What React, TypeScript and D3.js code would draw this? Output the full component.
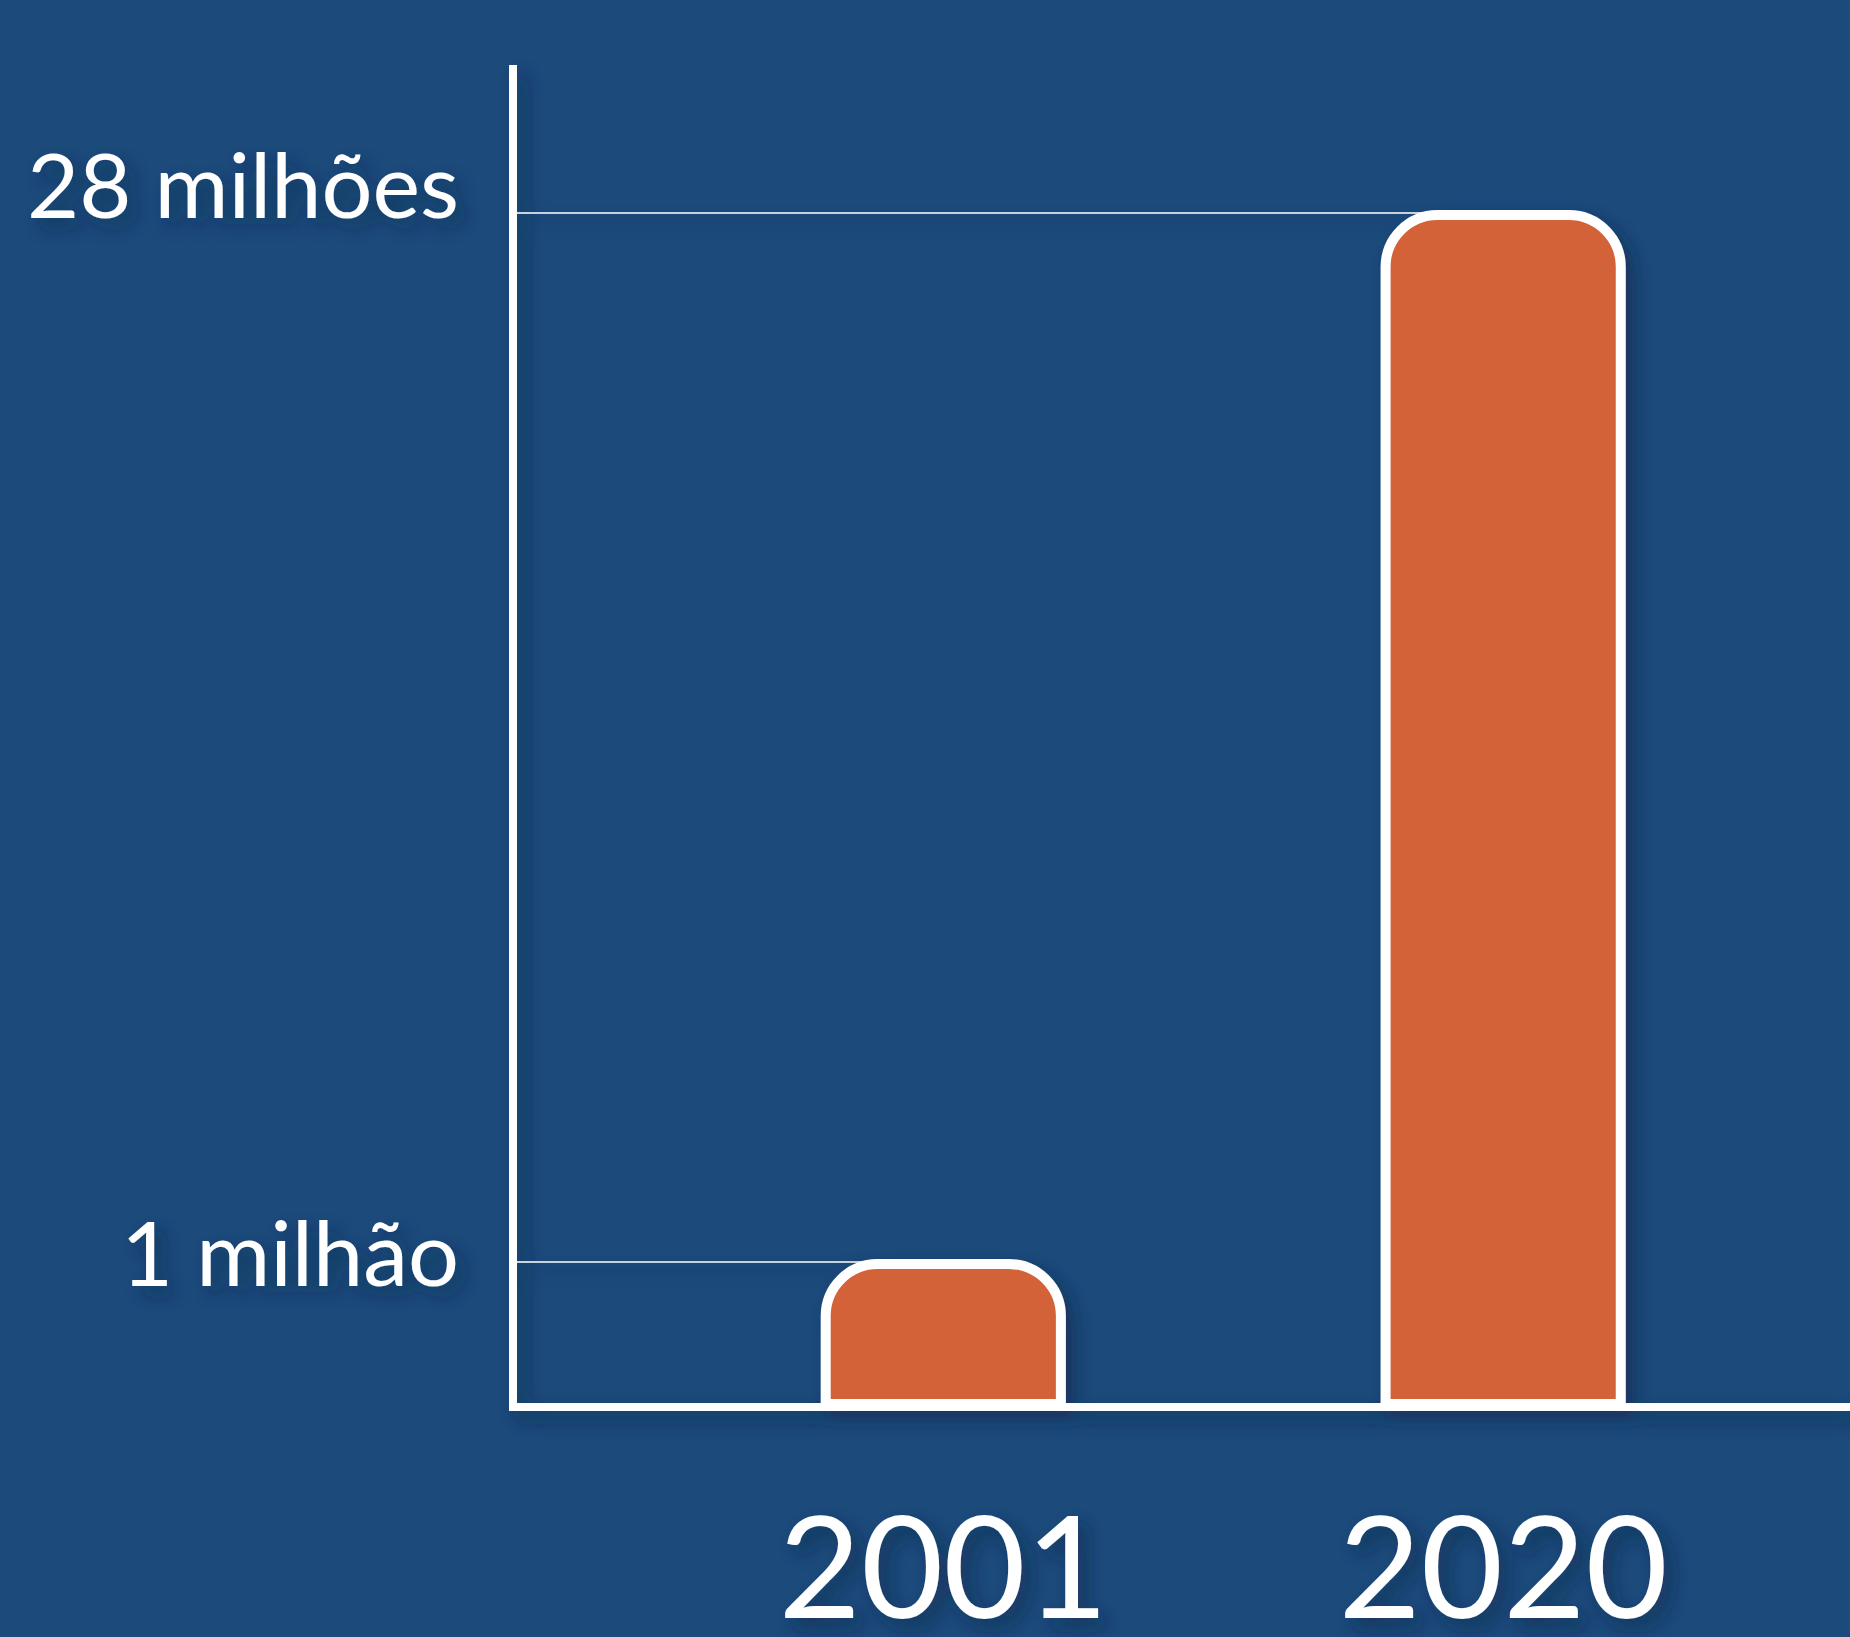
import React, { useEffect, useRef } from 'react';
import * as d3 from 'd3';

// values in millions
const years = ['2001', '2020'];
const values = [1, 28];
const tickValues = [1, 28];
const tickLabels = ['1 milhão', '28 milhões'];

const W = 1850;
const H = 1637;

export default function App() {
  const svgRef = useRef<SVGSVGElement>(null);

  useEffect(() => {
    if (!svgRef.current) return;
    const svg = d3.select(svgRef.current);
    svg.selectAll('*').remove();

    const axisX = 513;
    const baseY = 1407;
    const topY = 65;
    const sw = 10;
    const radius = 52;

    const defs = svg.append('defs');
    const f = defs.append('filter')
      .attr('id', 'shadow')
      .attr('x', '-20%').attr('y', '-20%')
      .attr('width', '140%').attr('height', '140%');
    f.append('feDropShadow')
      .attr('dx', 8).attr('dy', 9)
      .attr('stdDeviation', 9)
      .attr('flood-color', '#0c2440')
      .attr('flood-opacity', 0.55);

    svg.append('rect')
      .attr('width', W).attr('height', H)
      .attr('fill', '#1b4a7b');

    const x = d3.scaleBand<string>()
      .domain(years)
      .range([axisX, W])
      .paddingInner(0.58)
      .paddingOuter(0.484)
      .align(0.577);

    // the picture is not drawn to proportion: the two values sit at fixed heights
    const y = d3.scaleLinear()
      .domain([1, 28])
      .range([1262, 213]);

    // baseline positions for the tick labels
    const yLabel = d3.scaleLinear()
      .domain([1, 28])
      .range([1286, 218]);

    const g = svg.append('g').attr('filter', 'url(#shadow)');

    // thin reference lines from the axis to each bar
    g.selectAll('line.grid')
      .data(values)
      .enter()
      .append('line')
      .attr('class', 'grid')
      .attr('x1', axisX)
      .attr('x2', (d, i) => (x(years[i]) || 0) + x.bandwidth() / 2)
      .attr('y1', d => y(d))
      .attr('y2', d => y(d))
      .attr('stroke', '#ffffff')
      .attr('stroke-width', 1.5);

    // bars with rounded top corners
    const barPath = (x0: number, w: number, top: number, bottom: number, r: number) => {
      const p = d3.path();
      p.moveTo(x0, bottom);
      p.lineTo(x0, top + r);
      p.arcTo(x0, top, x0 + r, top, r);
      p.lineTo(x0 + w - r, top);
      p.arcTo(x0 + w, top, x0 + w, top + r, r);
      p.lineTo(x0 + w, bottom);
      p.closePath();
      return p.toString();
    };

    g.selectAll('path.bar')
      .data(values)
      .enter()
      .append('path')
      .attr('class', 'bar')
      .attr('d', (d, i) => barPath(x(years[i]) || 0, x.bandwidth(), y(d) + 2, baseY - 3, radius))
      .attr('fill', '#d36239')
      .attr('stroke', '#ffffff')
      .attr('stroke-width', sw)
      .attr('stroke-linejoin', 'round');

    // axes lines
    g.append('line')
      .attr('x1', axisX).attr('x2', axisX)
      .attr('y1', topY).attr('y2', baseY + 4)
      .attr('stroke', '#ffffff').attr('stroke-width', 8);
    g.append('line')
      .attr('x1', axisX - 4).attr('x2', W)
      .attr('y1', baseY).attr('y2', baseY)
      .attr('stroke', '#ffffff').attr('stroke-width', 8);

    // y tick labels
    g.selectAll('text.ytick')
      .data(tickValues)
      .enter()
      .append('text')
      .attr('class', 'ytick')
      .attr('x', 459)
      .attr('y', d => yLabel(d))
      .attr('text-anchor', 'end')
      .attr('fill', '#ffffff')
      .style('font-family', 'Lato, "Open Sans", sans-serif')
      .style('font-size', '90px')
      .text((d, i) => tickLabels[i]);

    // x labels
    g.selectAll('text.xtick')
      .data(years)
      .enter()
      .append('text')
      .attr('class', 'xtick')
      .attr('x', d => (x(d) || 0) + x.bandwidth() / 2)
      .attr('y', 1618)
      .attr('text-anchor', 'middle')
      .attr('fill', '#ffffff')
      .style('font-family', 'Lato, "Open Sans", sans-serif')
      .style('font-size', '142px')
      .text(d => d);
  }, []);

  return (
    <svg
      ref={svgRef}
      width={W}
      height={H}
      style={{ position: 'absolute', top: 0, left: 0, display: 'block' }}
    />
  );
}
